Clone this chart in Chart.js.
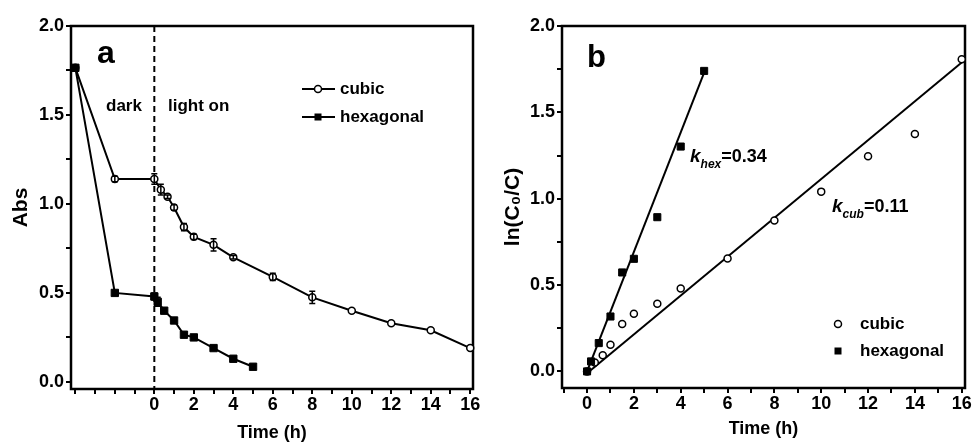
<!DOCTYPE html>
<html lang="en">
<head>
<meta charset="UTF-8">
<title>Abs and ln(C0/C) versus time</title>
<script src="https://cdn.jsdelivr.net/npm/chart.js"></script>
<style>
  body { margin: 0; background: #fff; }
  #wrap { position: relative; width: 972px; height: 444px; }
  canvas { position: absolute; top: 0; }
  #chartA { left: 0; }
  #chartB { left: 486px; }
</style>
</head>
<body>
<div id="wrap">
  <canvas id="chartA" width="486" height="444"></canvas>
  <canvas id="chartB" width="486" height="444"></canvas>
</div>
<script>
// panel a: absorbance vs time (dark phase from -4 h, light on at 0 h)
const cubicTimeA = [-4, -2, 0, 0.33, 0.67, 1, 1.5, 2, 3, 4, 6, 8, 10, 12, 14, 16]
const cubicAbs = [1.765, 1.14, 1.14, 1.08, 1.04, 0.98, 0.87, 0.815, 0.77, 0.70, 0.59, 0.475, 0.40, 0.33, 0.29, 0.19]
const cubicAbsErr = [0, 0.015, 0.03, 0.03, 0.01, 0.015, 0.02, 0.015, 0.035, 0.01, 0.02, 0.035, 0, 0, 0, 0]
const hexTimeA = [-4, -2, 0, 0.17, 0.5, 1, 1.5, 2, 3, 4, 5]
const hexAbs = [1.765, 0.50, 0.48, 0.45, 0.40, 0.345, 0.265, 0.25, 0.19, 0.13, 0.085]
const hexAbsErr = [0, 0, 0.02, 0.025, 0, 0, 0, 0, 0, 0, 0]

// panel b: ln(C0/C) vs time with linear fits
const cubicTimeB = [0, 0.33, 0.67, 1, 1.5, 2, 3, 4, 6, 8, 10, 12, 14, 16]
const cubicLn = [0, 0.052, 0.094, 0.154, 0.274, 0.334, 0.392, 0.48, 0.654, 0.874, 1.041, 1.246, 1.375, 1.807]
const hexTimeB = [0, 0.17, 0.5, 1, 1.5, 2, 3, 4, 5]
const hexLn = [0, 0.058, 0.164, 0.318, 0.573, 0.652, 0.893, 1.302, 1.74]
const cubicFitTime = [0, 16.05]
const cubicFitLn = [-0.01, 1.795]
const hexFitTime = [0, 5]
const hexFitLn = [0.0, 1.73]

// ticks
const timeTicksA = [-4, -3, -2, -1, 0, 1, 2, 3, 4, 5, 6, 7, 8, 9, 10, 11, 12, 13, 14, 15, 16]
const timeTicksB = [-1, 0, 1, 2, 3, 4, 5, 6, 7, 8, 9, 10, 11, 12, 13, 14, 15, 16]
const yTicks = [0, 0.25, 0.5, 0.75, 1.0, 1.25, 1.5, 1.75, 2.0]
const seriesNames = ['cubic', 'hexagonal']

const FONT = '"Liberation Sans", Arial, sans-serif'
Chart.defaults.font.family = FONT
Chart.defaults.color = '#000'

const toXY = (xs, ys) => xs.map((x, i) => ({ x, y: ys[i] }))
const tickFont = { size: 18, weight: 'bold' }
const titleFont = { size: 18, weight: 'bold' }

const frame = {
  id: 'frame',
  beforeDatasetsDraw(chart) {
    const { ctx, chartArea: a } = chart
    ctx.save()
    ctx.strokeStyle = '#000'
    ctx.lineWidth = 2.5
    ctx.strokeRect(a.left, a.top, a.right - a.left, a.bottom - a.top)
    ctx.restore()
  }
}

const errorBars = {
  id: 'errorBars',
  afterDatasetsDraw(chart) {
    const { ctx } = chart
    const ys = chart.scales.y
    ctx.save()
    ctx.strokeStyle = '#000'
    ctx.lineWidth = 1.5
    chart.data.datasets.forEach((ds, i) => {
      if (!ds.errors) return
      chart.getDatasetMeta(i).data.forEach((pt, j) => {
        const e = ds.errors[j]
        if (!e) return
        const v = ds.data[j].y
        const top = ys.getPixelForValue(v + e)
        const bot = ys.getPixelForValue(v - e)
        ctx.beginPath()
        ctx.moveTo(pt.x, top); ctx.lineTo(pt.x, bot)
        ctx.moveTo(pt.x - 3, top); ctx.lineTo(pt.x + 3, top)
        ctx.moveTo(pt.x - 3, bot); ctx.lineTo(pt.x + 3, bot)
        ctx.stroke()
      })
    })
    ctx.restore()
  }
}

function marker(ctx, style, x, y) {
  ctx.beginPath()
  if (style === 'circle') {
    ctx.arc(x, y, 3.5, 0, Math.PI * 2)
    ctx.fillStyle = '#fff'
    ctx.fill()
    ctx.lineWidth = 1.5
    ctx.stroke()
  } else {
    ctx.fillStyle = '#000'
    ctx.fillRect(x - 3.5, y - 3.5, 7, 7)
  }
}

const decorA = {
  id: 'decorA',
  beforeDatasetsDraw(chart) {
    const { ctx, chartArea: a } = chart
    const x0 = chart.scales.x.getPixelForValue(0)
    ctx.save()
    ctx.strokeStyle = '#000'
    ctx.lineWidth = 2
    ctx.setLineDash([6, 4])
    ctx.beginPath()
    ctx.moveTo(x0, a.top)
    ctx.lineTo(x0, a.bottom)
    ctx.stroke()
    ctx.restore()
  },
  afterDraw(chart) {
    const { ctx } = chart
    ctx.save()
    ctx.fillStyle = '#000'
    ctx.strokeStyle = '#000'
    ctx.font = 'bold 32px ' + FONT
    ctx.fillText('a', 97, 63)
    ctx.font = 'bold 17px ' + FONT
    ctx.fillText('dark', 106, 111)
    ctx.fillText('light on', 168, 111)
    // legend
    const rows = [89, 117]
    const styles = ['circle', 'rect']
    rows.forEach((y, i) => {
      ctx.lineWidth = 2
      ctx.beginPath()
      ctx.moveTo(302, y); ctx.lineTo(335, y)
      ctx.stroke()
      marker(ctx, styles[i], 318, y)
      ctx.fillStyle = '#000'
      ctx.font = 'bold 17px ' + FONT
      ctx.textBaseline = 'middle'
      ctx.fillText(seriesNames[i], 340, y)
    })
    ctx.restore()
  }
}

function kLabel(ctx, x, base, sub, val) {
  ctx.font = 'italic bold 19px ' + FONT
  ctx.fillText('k', x, base)
  x += ctx.measureText('k').width
  ctx.font = 'italic bold 12px ' + FONT
  ctx.fillText(sub, x, base + 6)
  x += ctx.measureText(sub).width
  ctx.font = 'bold 18px ' + FONT
  ctx.fillText('=' + val, x, base)
}

const decorB = {
  id: 'decorB',
  afterDraw(chart) {
    const { ctx } = chart
    ctx.save()
    ctx.fillStyle = '#000'
    ctx.strokeStyle = '#000'
    ctx.font = 'bold 31px ' + FONT
    ctx.fillText('b', 101, 67)
    kLabel(ctx, 204, 162, 'hex', '0.34')
    kLabel(ctx, 346, 212, 'cub', '0.11')
    const rows = [324, 351]
    const styles = ['circle', 'rect']
    rows.forEach((y, i) => {
      marker(ctx, styles[i], 352, y)
      ctx.fillStyle = '#000'
      ctx.font = 'bold 17px ' + FONT
      ctx.textBaseline = 'middle'
      ctx.fillText(seriesNames[i], 374, y)
    })
    ctx.restore()
  }
}

function xAxis(min, max, ticks, height, titlePad) {
  return {
    type: 'linear', min, max,
    afterBuildTicks: s => { s.ticks = ticks.map(v => ({ value: v })) },
    afterFit: s => { s.height = height; s.paddingLeft = 0; s.paddingRight = 0 },
    border: { display: false },
    grid: { drawOnChartArea: false, tickLength: 5, color: '#000', lineWidth: 2 },
    ticks: {
      autoSkip: false, maxRotation: 0, padding: 0, font: tickFont,
      callback: v => (v >= 0 && v % 2 === 0) ? String(v) : ''
    },
    title: { display: true, text: 'Time (h)', font: titleFont, padding: { top: 0, bottom: titlePad } }
  }
}

function yAxis(min, width, title, titlePad) {
  return {
    min, max: 2.0,
    afterBuildTicks: s => { s.ticks = yTicks.map(v => ({ value: v })) },
    afterFit: s => { s.width = width; s.paddingTop = 0; s.paddingBottom = 0 },
    border: { display: false },
    grid: { drawOnChartArea: false, tickLength: 5, color: '#000', lineWidth: 2 },
    ticks: {
      padding: 2, font: tickFont,
      callback: v => Math.abs(v * 2 - Math.round(v * 2)) < 1e-6 ? v.toFixed(1) : ''
    },
    title: { display: true, text: title, font: { size: 21, weight: 'bold' }, padding: { top: titlePad, bottom: 0 } }
  }
}

const baseOptions = {
  responsive: false,
  animation: false,
  devicePixelRatio: 1,
  plugins: { legend: { display: false }, tooltip: { enabled: false } }
}

new Chart(document.getElementById('chartA'), {
  type: 'scatter',
  data: {
    datasets: [
      {
        label: seriesNames[0], data: toXY(cubicTimeA, cubicAbs), errors: cubicAbsErr, order: 1,
        showLine: true, borderColor: '#000', borderWidth: 2, clip: false,
        pointStyle: 'circle', pointRadius: 3.5, pointBackgroundColor: '#fff', pointBorderColor: '#000', pointBorderWidth: 1.5
      },
      {
        label: seriesNames[1], data: toXY(hexTimeA, hexAbs), errors: hexAbsErr, order: 0,
        showLine: true, borderColor: '#000', borderWidth: 2, clip: false,
        pointStyle: 'rect', pointRadius: 5.2, pointBackgroundColor: '#000', pointBorderColor: '#000', pointBorderWidth: 1
      }
    ]
  },
  options: Object.assign({}, baseOptions, {
    layout: { padding: { left: 0, right: 13, top: 26, bottom: 0 } },
    scales: {
      x: xAxis(-4.22, 16.14, timeTicksA, 55, 0),
      y: yAxis(-0.04, 71, 'Abs', 9)
    }
  }),
  plugins: [frame, decorA, errorBars]
})

new Chart(document.getElementById('chartB'), {
  type: 'scatter',
  data: {
    datasets: [
      {
        label: seriesNames[0], data: toXY(cubicTimeB, cubicLn), clip: false, order: 1,
        pointStyle: 'circle', pointRadius: 3.5, pointBackgroundColor: '#fff', pointBorderColor: '#000', pointBorderWidth: 1.5
      },
      {
        label: seriesNames[1], data: toXY(hexTimeB, hexLn), clip: false, order: 0,
        pointStyle: 'rect', pointRadius: 5, pointBackgroundColor: '#000', pointBorderColor: '#000', pointBorderWidth: 1
      },
      {
        label: 'cubic fit', data: toXY(cubicFitTime, cubicFitLn), order: 2,
        showLine: true, borderColor: '#000', borderWidth: 2, pointRadius: 0
      },
      {
        label: 'hexagonal fit', data: toXY(hexFitTime, hexFitLn), order: 2,
        showLine: true, borderColor: '#000', borderWidth: 2, pointRadius: 0
      }
    ]
  },
  options: Object.assign({}, baseOptions, {
    layout: { padding: { left: 0, right: 7, top: 26, bottom: 0 } },
    scales: {
      x: xAxis(-1.07, 16.14, timeTicksB, 56, 4),
      y: yAxis(-0.096, 76, 'ln(C\u2080/C)', 15)
    }
  }),
  plugins: [frame, decorB]
})
</script>
</body>
</html>
